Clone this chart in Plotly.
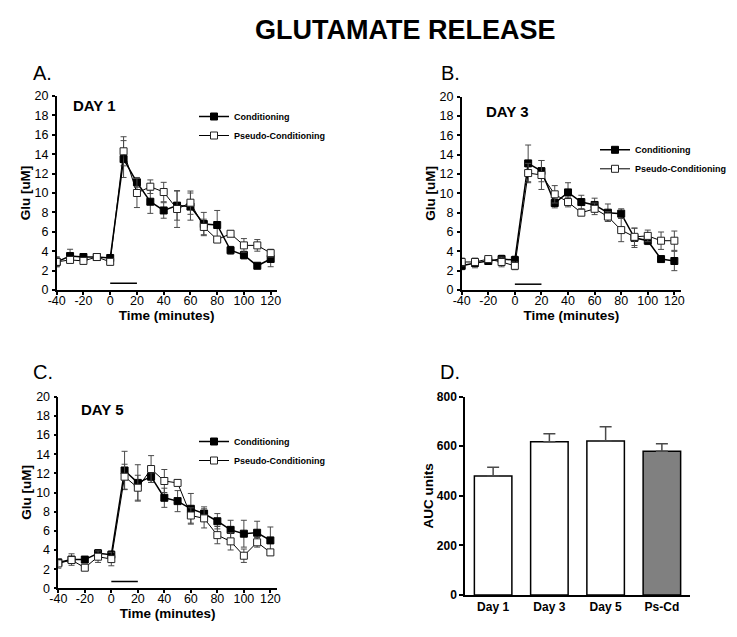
import plotly.graph_objects as go

# ---------------- data ----------------
TIME = [-40, -30, -20, -10, 0, 10, 20, 30, 40, 50, 60, 70, 80, 90, 100, 110, 120]

# Day 1
D1_COND = [2.9, 3.5, 3.4, 3.4, 3.3, 13.5, 11.1, 9.1, 8.2, 8.7, 8.6, 6.8, 6.7, 4.1, 3.6, 2.5, 3.2]
D1_COND_ERR = [0.5, 0.7, 0.3, 0.2, 0.3, 1.9, 0.5, 1.2, 0.8, 1.5, 1.4, 1.2, 1.5, 0.4, 0.4, 0.2, 0.8]
D1_PSEU = [2.9, 3.1, 3.0, 3.4, 2.9, 14.3, 10.0, 10.65, 10.1, 8.35, 9.0, 6.5, 5.2, 5.8, 4.6, 4.6, 3.8]
D1_PSEU_ERR = [0.5, 0.3, 0.3, 0.2, 0.3, 1.5, 1.5, 0.7, 1.0, 1.9, 1.2, 0.8, 0.3, 0.3, 0.7, 0.6, 0.4]

# Day 3
D3_COND = [2.5, 2.8, 3.0, 3.2, 3.1, 13.1, 12.3, 9.0, 10.1, 9.1, 8.8, 8.0, 7.9, 5.4, 5.1, 3.2, 3.0]
D3_COND_ERR = [0.4, 0.5, 0.3, 0.4, 0.4, 1.9, 1.1, 0.5, 1.0, 0.7, 0.7, 0.9, 0.5, 1.0, 0.4, 0.3, 1.0]
D3_PSEU = [2.9, 2.9, 3.2, 2.9, 2.5, 12.1, 11.9, 9.9, 9.1, 8.0, 8.4, 7.6, 6.2, 5.5, 5.6, 5.1, 5.1]
D3_PSEU_ERR = [0.4, 0.3, 0.2, 0.5, 0.4, 1.0, 1.5, 0.9, 0.5, 0.3, 0.6, 0.5, 1.2, 0.9, 0.6, 0.9, 1.0]

# Day 5
D5_COND = [2.7, 3.0, 3.0, 3.65, 3.5, 12.3, 11.0, 11.65, 9.45, 9.1, 8.3, 7.8, 7.0, 6.1, 5.7, 5.8, 5.0]
D5_COND_ERR = [0.3, 0.6, 0.3, 0.4, 0.4, 2.0, 1.9, 0.6, 1.0, 1.1, 1.6, 0.7, 0.8, 1.0, 1.4, 1.2, 1.4]
D5_PSEU = [2.6, 2.95, 2.15, 3.3, 3.05, 11.65, 10.5, 12.45, 11.2, 11.0, 7.6, 7.3, 5.55, 4.9, 3.4, 4.8, 3.75]
D5_PSEU_ERR = [0.5, 0.3, 0.3, 0.6, 0.7, 1.3, 1.3, 1.4, 1.2, 0.3, 0.8, 1.0, 0.9, 0.9, 0.7, 0.5, 0.3]

# AUC
AUC_CATS = ["Day 1", "Day 3", "Day 5", "Ps-Cd"]
AUC_VALS = [480, 618, 621, 580]
AUC_ERR = [35, 33, 58, 30]
AUC_COLORS = ["white", "white", "white", "#808080"]

# stimulus bar
STIM_X = [0, 20]
STIM_Y = [0.7, 0.6, 0.7]

X_TICKS = [-40, -20, 0, 20, 40, 60, 80, 100, 120]
X_TICKTEXT = ["-40", "-20", "0", "20", "40", "60", "80", "100", "120"]
Y_TICKS = [0, 2, 4, 6, 8, 10, 12, 14, 16, 18, 20]
AUC_TICKS = [0, 200, 400, 600, 800]

SERIES_NAMES = ["Conditioning", "Pseudo-Conditioning"]
DAY_LABELS = ["DAY 1", "DAY 3", "DAY 5"]
PANEL_LABELS = ["A.", "B.", "C.", "D."]

# ---------------- layout helpers ----------------
# the page body has an 8px margin: the figure is drawn offset by (8, 8)
OFF = 8
W, H = 737 - OFF, 637 - OFF
FONT = "Liberation Sans, Arial, sans-serif"


def px(x):
    return (x - OFF) / W


def py(y):
    return 1 - (y - OFF) / H


fig = go.Figure()

panels = [
    # (cond, cond_err, pseu, pseu_err, xaxis id, yaxis id, x domain px, y domain px, xmax, legend)
    (D1_COND, D1_COND_ERR, D1_PSEU, D1_PSEU_ERR, "x", "y", (56.7, 276.7), (290, 96), 124.5, "legend"),
    (D3_COND, D3_COND_ERR, D3_PSEU, D3_PSEU_ERR, "x2", "y2", (461.7, 681), (290, 96.7), 125, "legend2"),
    (D5_COND, D5_COND_ERR, D5_PSEU, D5_PSEU_ERR, "x3", "y3", (58.3, 277), (588.3, 396.7), 125, "legend3"),
]

ERR_COLOR = "#4a4a4a"

for i, (c, ce, p, pe, xa, ya, xd, yd, xmax, lg) in enumerate(panels):
    fig.add_trace(go.Scatter(
        x=TIME, y=c, mode="lines+markers", name="<b>" + SERIES_NAMES[0] + "</b>",
        xaxis=xa, yaxis=ya, legend=lg,
        line=dict(color="black", width=1.5),
        marker=dict(symbol="square", size=7, color="black", line=dict(color="black", width=1)),
        error_y=dict(type="data", array=ce, visible=True, color=ERR_COLOR, thickness=1, width=3),
    ))
    fig.add_trace(go.Scatter(
        x=TIME, y=p, mode="lines+markers", name="<b>" + SERIES_NAMES[1] + "</b>",
        xaxis=xa, yaxis=ya, legend=lg,
        line=dict(color="black", width=1),
        marker=dict(symbol="square", size=7, color="white", line=dict(color="#222", width=1)),
        error_y=dict(type="data", array=pe, visible=True, color=ERR_COLOR, thickness=1, width=3),
    ))
    suffix = "" if i == 0 else str(i + 1)
    axis_common = dict(showline=True, linecolor="black", linewidth=1.5, ticks="outside",
                       ticklen=3, tickwidth=1.5, tickcolor="black", showgrid=False, zeroline=False,
                       automargin=False,
                       tickfont=dict(family=FONT, size=12.5, color="black"))
    fig.layout["xaxis" + suffix] = dict(
        domain=[px(xd[0]), px(xd[1])], range=[-40, xmax], anchor=ya,
        tickvals=X_TICKS, ticktext=X_TICKTEXT, ticklabelstandoff=-5,
        title=dict(text="<b>Time (minutes)</b>", font=dict(family=FONT, size=13.5, color="black"), standoff=3),
        **axis_common)
    fig.layout["yaxis" + suffix] = dict(
        domain=[py(yd[0]), py(yd[1])], range=[0, 20], anchor=xa,
        tickvals=Y_TICKS, ticklabelstandoff=1,
        title=dict(text="<b>Glu [uM]</b>", font=dict(family=FONT, size=13.5, color="black"), standoff=1),
        **axis_common)
    fig.add_shape(type="line", xref=xa, yref=ya, x0=STIM_X[0], x1=STIM_X[1],
                  y0=STIM_Y[i], y1=STIM_Y[i], line=dict(color="black", width=1.5))

# AUC bar panel
fig.add_trace(go.Bar(
    x=AUC_CATS, y=AUC_VALS, xaxis="x4", yaxis="y4", width=0.667, showlegend=False,
    marker=dict(color=AUC_COLORS, line=dict(color="black", width=1.5)),
    error_y=dict(type="data", symmetric=False, array=AUC_ERR, arrayminus=[0] * len(AUC_ERR),
                 visible=True, color=ERR_COLOR, thickness=1.5, width=6),
))
fig.layout["xaxis4"] = dict(
    domain=[px(465), px(690)], range=[-0.5, 3.5], anchor="y4", automargin=False,
    showline=True, linecolor="black", linewidth=1.5, ticks="", showgrid=False, zeroline=False,
    tickfont=dict(family=FONT, size=12, color="black", weight="bold"))
fig.layout["yaxis4"] = dict(
    domain=[py(595), py(396.7)], range=[0, 800], anchor="x4", tickvals=AUC_TICKS, automargin=False,
    showline=True, linecolor="black", linewidth=1.5, ticks="outside", ticklen=4, tickwidth=1.5,
    tickcolor="black", showgrid=False, zeroline=False, ticklabelstandoff=0,
    tickfont=dict(family=FONT, size=12, color="black", weight="bold"),
    title=dict(text="<b>AUC units</b>", font=dict(family=FONT, size=13.5, color="black"), standoff=0))

# legends
leg_common = dict(font=dict(family=FONT, size=9, color="black"), bgcolor="rgba(0,0,0,0)",
                  xanchor="left", yanchor="middle", tracegroupgap=0, itemwidth=30)
fig.update_layout(
    legend=dict(x=px(194), y=py(126), **leg_common),
    legend2=dict(x=px(595), y=py(159.3), **leg_common),
    legend3=dict(x=px(194), y=py(451), **leg_common),
)

annotations = [
    dict(text="<b>GLUTAMATE RELEASE</b>", x=px(405.5), y=py(29.7), font=dict(size=27)),
    dict(text=PANEL_LABELS[0], x=px(42), y=py(73), font=dict(size=20)),
    dict(text=PANEL_LABELS[1], x=px(450), y=py(72.7), font=dict(size=20)),
    dict(text=PANEL_LABELS[2], x=px(43), y=py(371.7), font=dict(size=20)),
    dict(text=PANEL_LABELS[3], x=px(450), y=py(372), font=dict(size=20)),
    dict(text="<b>" + DAY_LABELS[0] + "</b>", x=px(94.7), y=py(105), font=dict(size=15)),
    dict(text="<b>" + DAY_LABELS[1] + "</b>", x=px(507.5), y=py(111.7), font=dict(size=15)),
    dict(text="<b>" + DAY_LABELS[2] + "</b>", x=px(102.5), y=py(409), font=dict(size=15)),
]
for a in annotations:
    a.update(xref="paper", yref="paper", showarrow=False, xanchor="center", yanchor="middle")
    a["font"].update(family=FONT, color="black")
fig.update_layout(annotations=annotations)

fig.update_layout(
    template="none",
    width=W, height=H, margin=dict(l=0, r=0, t=0, b=0),
    paper_bgcolor="white", plot_bgcolor="white",
    font=dict(family=FONT, color="black"),
)

fig.write_html("out.html")
